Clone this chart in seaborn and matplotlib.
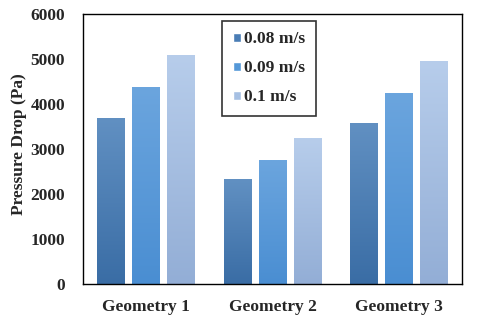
import numpy as np
import pandas as pd
import matplotlib
matplotlib.use("Agg")
import matplotlib.pyplot as plt
import matplotlib.colors as mcolors
import seaborn as sns

geometries = ["Geometry 1", "Geometry 2", "Geometry 3"]
velocities = ["0.08 m/s", "0.09 m/s", "0.1 m/s"]
drop_008 = [3690, 2330, 3580]
drop_009 = [4380, 2750, 4240]
drop_010 = [5090, 3240, 4960]

df = pd.DataFrame({
    "geometry": geometries * 3,
    "velocity": np.repeat(velocities, 3),
    "drop": drop_008 + drop_009 + drop_010,
})

sns.set_style("white")
plt.rcParams["font.family"] = ["Liberation Serif", "DejaVu Serif"]
plt.rcParams["font.weight"] = "bold"

colors = ["#4a7db5", "#5598d8", "#a6c0e3"]
# top / bottom shades for the gradient fill
grad = [("#6190c2", "#3a6da5"), ("#6ba5de", "#4a8ed2"), ("#b7cdeb", "#93aed6")]

fig = plt.figure(figsize=(4.8, 3.18), dpi=100)
ax = fig.add_axes([0.173, 0.107, 0.79, 0.849])
sns.barplot(data=df, x="geometry", y="drop", hue="velocity", palette=colors,
            width=0.83, gap=0.21, ax=ax, saturation=1)

# gradient fill, clipped to each bar
for cont, (top, bot) in zip(ax.containers, grad):
    cmap = mcolors.LinearSegmentedColormap.from_list("g", [bot, top])
    for bar in cont:
        x0, y0 = bar.get_x(), bar.get_y()
        w, h = bar.get_width(), bar.get_height()
        img = ax.imshow(np.linspace(0, 1, 100).reshape(-1, 1), cmap=cmap,
                        extent=[x0, x0 + w, y0, y0 + h], origin="lower",
                        aspect="auto", zorder=bar.get_zorder() + 0.1)
        img.set_clip_path(bar)
ax.set_ylim(0, 6000)
ax.set_xlim(-0.5, 2.5)

ax.set_yticks(range(0, 6001, 1000))
ax.set_xlabel("")
ax.set_ylabel("Pressure Drop (Pa)", fontsize=12.5, fontweight="bold")
ax.yaxis.set_label_coords(-0.149, 0.519)
ax.tick_params(axis="y", length=0, labelsize=12.5, pad=13)
ax.tick_params(axis="x", which="major", length=0, labelsize=12.5, pad=11)
ax.set_xticks([-0.5, 0.5, 1.5, 2.5], minor=True)
ax.tick_params(axis="x", which="minor", length=4, width=1, direction="out", color="black")
for lab in ax.get_xticklabels() + ax.get_yticklabels():
    lab.set_fontweight("bold")
for s in ax.spines.values():
    s.set_visible(True)
    s.set_color("black")
    s.set_linewidth(1)

leg = ax.legend(title=None, loc="upper left", bbox_to_anchor=(0.367, 0.974),
                fontsize=12.5, frameon=True, fancybox=False, edgecolor="black",
                handlelength=0.46, handleheight=0.46, labelspacing=0.75,
                handletextpad=0.2, borderpad=0.6, borderaxespad=0)
leg.get_frame().set_linewidth(1.2)
for t in leg.get_texts():
    t.set_fontweight("bold")

plt.savefig("out.png", dpi=100)
